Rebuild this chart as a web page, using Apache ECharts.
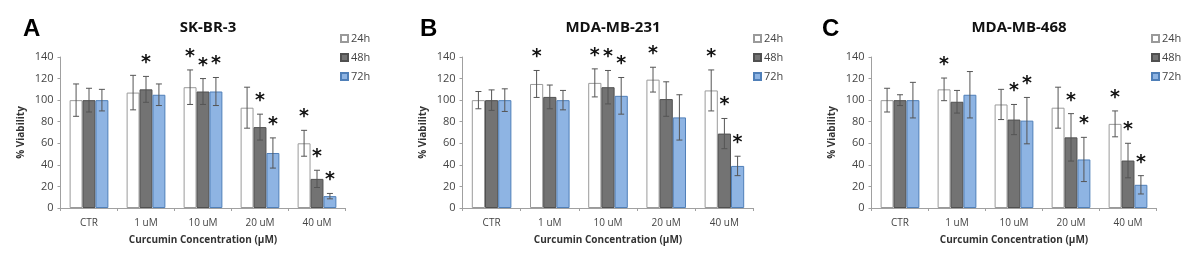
<!DOCTYPE html>
<html>
<head>
<meta charset="utf-8">
<script src="https://cdn.jsdelivr.net/npm/echarts@6/dist/echarts.min.js"></script>
<style>
  html, body { margin: 0; padding: 0; background: #fff; }
  #chart { width: 1200px; height: 267px; }
</style>
</head>
<body>
<div id="chart"></div>
<script>
// categories / legend
const categories = ["CTR", "1 uM", "10 uM", "20 uM", "40 uM"];
const times = ["24h", "48h", "72h"];
const panelLetters = ["A", "B", "C"];
const cellLines = ["SK-BR-3", "MDA-MB-231", "MDA-MB-468"];

// SK-BR-3
const skbr3Mean = [[100, 107, 112, 93, 60], [100, 110, 108, 75, 27], [100, 105, 108, 51, 11]];
const skbr3Err = [[15, 16, 16, 19, 12], [11, 12, 12, 12, 8], [10, 10, 13, 14, 2.5]];
const skbr3Star = [[0, 0, 1, 0, 1], [0, 1, 1, 1, 1], [0, 0, 1, 1, 1]];

// MDA-MB-231
const mb231Mean = [[100, 115, 116, 119, 109], [100, 103, 112, 101, 69], [100, 100, 104, 84, 39]];
const mb231Err = [[8, 12.5, 13, 11.5, 19], [9.5, 11, 15.5, 16, 14], [10.5, 9, 17, 21, 9]];
const mb231Star = [[0, 1, 1, 1, 1], [0, 0, 1, 0, 1], [0, 0, 1, 0, 1]];

// MDA-MB-468
const mb468Mean = [[100, 110, 96, 93, 78], [100, 98.5, 82, 65.5, 44], [100, 105, 81, 45, 21.5]];
const mb468Err = [[11, 10.5, 14, 19, 12], [5, 10.5, 14, 22, 16], [16.5, 21.5, 21.5, 20.5, 8.5]];
const mb468Star = [[0, 1, 0, 0, 1], [0, 0, 1, 1, 1], [0, 0, 1, 1, 1]];

const yTicks = [0, 20, 40, 60, 80, 100, 120, 140];

const panels = [
  { mean: skbr3Mean, err: skbr3Err, star: skbr3Star },
  { mean: mb231Mean, err: mb231Err, star: mb231Star },
  { mean: mb468Mean, err: mb468Err, star: mb468Star }
];

const fills = ["#ffffff", "#737373", "#8eb4e3"];
const borders = ["#9a9a9a", "#505050", "#4f7fb8"];
const gridLefts = [60.5, 462.5, 871.5];
const gridWidths = [285, 291, 285];
const gapPct = 0.32;
const font = "'Open Sans', 'Liberation Sans', sans-serif";

const chart = echarts.init(document.getElementById("chart"));

const grids = [], xAxes = [], yAxes = [], series = [], titles = [], legends = [];

panels.forEach((p, pi) => {
  grids.push({ left: gridLefts[pi], width: gridWidths[pi], top: 57, bottom: 59 });
  xAxes.push({
    type: "category", gridIndex: pi, data: categories,
    name: "Curcumin Concentration (µM)", nameLocation: "middle", nameGap: 27,
    nameTextStyle: { fontFamily: font, fontWeight: "bold", fontSize: 10, color: "#333" },
    axisLine: { lineStyle: { color: "#a0a0a0" } },
    axisTick: { show: true, length: 3, lineStyle: { color: "#a0a0a0" } },
    axisLabel: { fontFamily: font, fontSize: 10, color: "#444", margin: 10 }
  });
  yAxes.push({
    type: "value", gridIndex: pi, min: yTicks[0], max: yTicks[yTicks.length - 1], interval: 20,
    name: "% Viability", nameLocation: "middle", nameGap: 34,
    nameTextStyle: { fontFamily: font, fontWeight: "bold", fontSize: 10, color: "#333" },
    axisLine: { show: true, lineStyle: { color: "#a0a0a0" } },
    axisTick: { show: true, length: 3, lineStyle: { color: "#a0a0a0" } },
    splitLine: { show: false },
    axisLabel: { fontFamily: font, fontSize: 11, color: "#444", margin: 7 }
  });
  times.forEach((t, ti) => {
    series.push({
      name: t, type: "bar", xAxisIndex: pi, yAxisIndex: pi,
      data: p.mean[ti],
      barCategoryGap: (gapPct * 100) + "%", barGap: "0%",
      itemStyle: { color: fills[ti], borderColor: borders[ti], borderWidth: 1 },
      emphasis: { disabled: true }
    });
  });
  // error bars + significance stars
  const errData = [];
  times.forEach((t, ti) => {
    categories.forEach((c, ci) => {
      errData.push([ci, p.mean[ti][ci], p.err[ti][ci], p.star[ti][ci], ti]);
    });
  });
  series.push({
    type: "custom", xAxisIndex: pi, yAxisIndex: pi, z: 5,
    data: errData,
    renderItem: (params, api) => {
      const ci = api.value(0), m = api.value(1), e = api.value(2), s = api.value(3), ti = api.value(4);
      const band = api.size([1, 0])[0];
      const bw = band * (1 - gapPct) / 3;
      const cx = api.coord([ci, 0])[0] + (ti - 1) * bw;
      const yTop = api.coord([ci, m + e])[1];
      const yBot = api.coord([ci, m - e])[1];
      const cap = 3;
      const ls = { stroke: "#555", lineWidth: 1 };
      const children = [
        { type: "line", shape: { x1: cx, y1: yTop, x2: cx, y2: yBot }, style: ls },
        { type: "line", shape: { x1: cx - cap, y1: yTop, x2: cx + cap, y2: yTop }, style: ls },
        { type: "line", shape: { x1: cx - cap, y1: yBot, x2: cx + cap, y2: yBot }, style: ls }
      ];
      if (s) {
        children.push({
          type: "text",
          style: { text: "*", x: cx, y: yTop - 13, align: "center", verticalAlign: "middle",
            font: "bold 19px 'DejaVu Sans', sans-serif", fill: "#111" }
        });
      }
      return { type: "group", children };
    }
  });
  const cx = gridLefts[pi] + gridWidths[pi] / 2;
  titles.push({
    text: cellLines[pi], left: cx, top: 15, textAlign: "center",
    textStyle: { fontFamily: font, fontWeight: "bold", fontSize: 15, color: "#111" }
  });
  titles.push({
    text: panelLetters[pi], left: [18, 415, 817][pi], top: 12,
    textStyle: { fontFamily: "'Liberation Sans', Arial, sans-serif", fontWeight: "bold", fontSize: 24, color: "#000" }
  });
  legends.push({
    data: times, orient: "vertical", left: [335, 748, 1146][pi], top: 28,
    itemWidth: 7, itemHeight: 7, itemGap: 8, icon: "rect",
    textStyle: { fontFamily: font, fontSize: 11, color: "#444", padding: [0, 0, 0, -2] },
    selectedMode: false
  });
});

chart.setOption({
  backgroundColor: "#fff",
  animation: false,
  title: titles,
  legend: legends,
  grid: grids,
  xAxis: xAxes,
  yAxis: yAxes,
  series: series
});
</script>
</body>
</html>
